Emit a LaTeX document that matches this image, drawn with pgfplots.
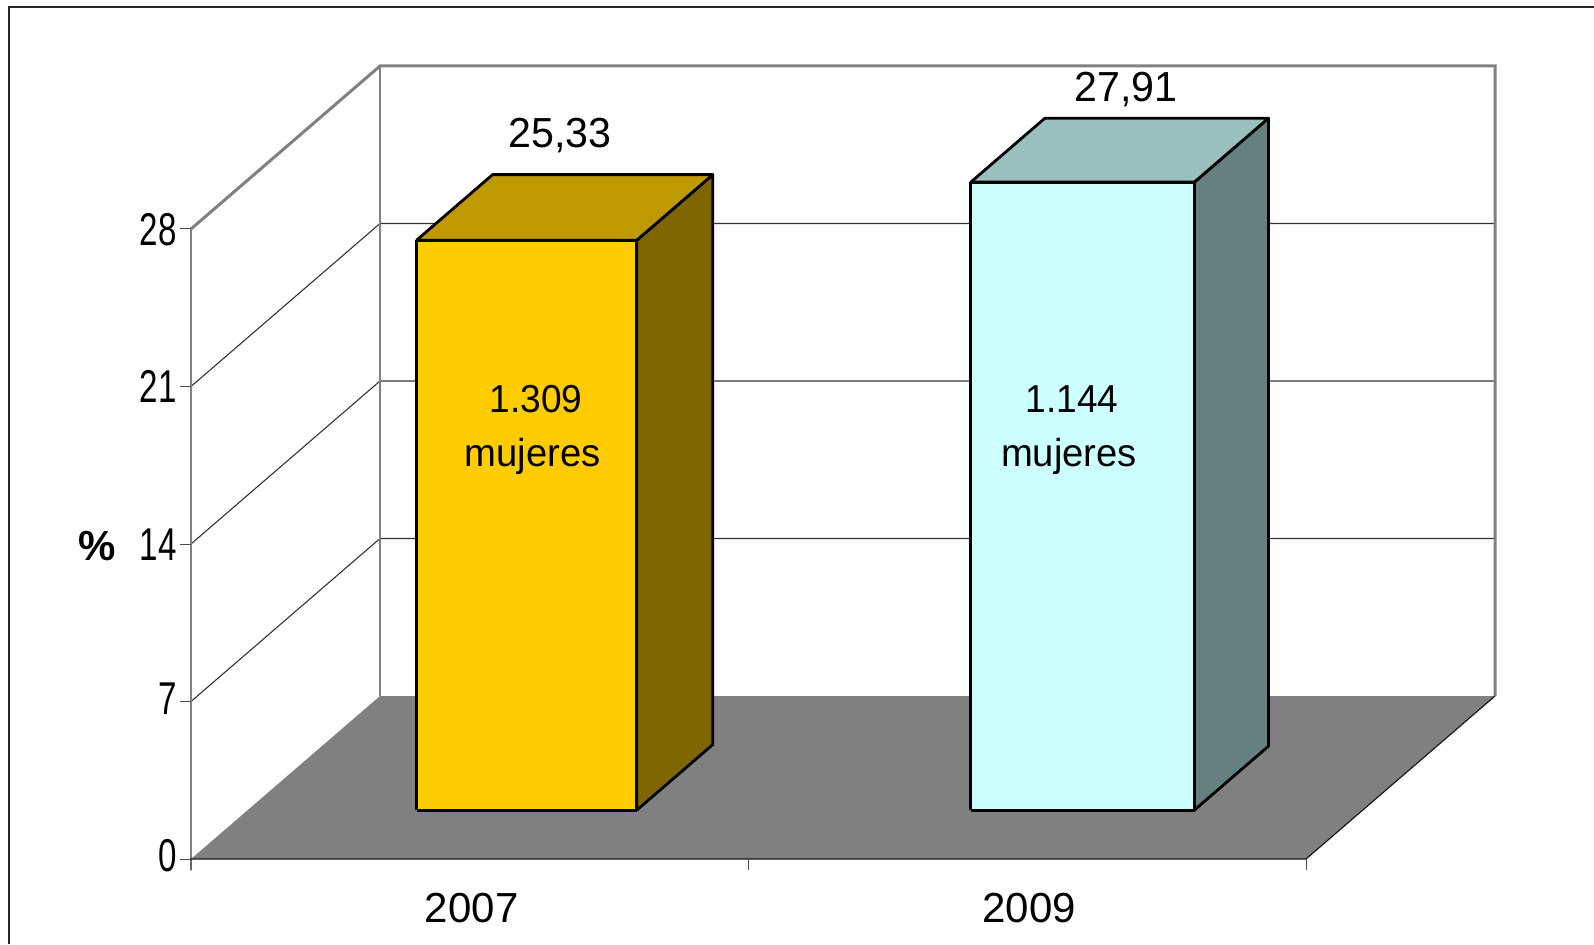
\documentclass[border=0pt]{standalone}
\usepackage{pgfplots}
\pgfplotsset{compat=1.18}
\usepackage{fontspec}
\setmainfont{Liberation Sans}
\newfontfamily\tickfont[FakeStretch=0.72]{Liberation Sans}
\newfontfamily\labfont[FakeStretch=0.98]{Liberation Sans}
\newfontfamily\numfont[FakeStretch=0.95]{Liberation Sans}
\definecolor{wallgrey}{HTML}{808080}
\definecolor{yfront}{HTML}{FFCC00}
\definecolor{ytop}{HTML}{BF9900}
\definecolor{yside}{HTML}{806600}
\definecolor{cfront}{HTML}{CCFFFF}
\definecolor{ctop}{HTML}{99BFBF}
\definecolor{cside}{HTML}{667F7F}
\begin{document}
\begin{tikzpicture}
  % 1 px of the reference = 0.5pt
  \path[use as bounding box] (-95.5pt,-42.5pt) rectangle (701.5pt,429.5pt);
  \draw[line width=1pt, black!85] (-91pt,-42.5pt) -- (-91pt,425.75pt) -- (701.5pt,425.75pt);
  \begin{axis}[
    at={(0pt,0pt)}, anchor=origin,
    x={(278.75pt,0pt)}, y={(94.5pt,81.5pt)}, z={(0pt,11.25pt)},
    xmin=0, xmax=2, ymin=0, ymax=1, zmin=0, zmax=28,
    clip=false,
    axis lines=left,
    axis line style={draw=none},
    tick style={draw=none},
    xtick={0.5,1.5}, xticklabels={2007,2009},
    ytick=\empty,
    ztick={0,7,14,21,28},
    /pgf/number format/assume math mode=true,
    x tick label style={font=\fontsize{21}{21}\selectfont, yshift=-12pt, xshift=7.6pt},
    z tick label style={font=\tickfont\fontsize{23}{23}\selectfont, xshift=-2pt, yshift=6pt},
  ]
    % floor
    \addplot3[fill=wallgrey, draw=none] coordinates {(0,0,0) (2,0,0) (2,1,0) (0,1,0) (0,0,0)};
    % grid on the back wall and side wall
    \addplot3[line width=0.55pt, black!80] coordinates {(0,0,7) (0,1,7) (2,1,7)};
    \addplot3[line width=0.55pt, black!80] coordinates {(0,0,14) (0,1,14) (2,1,14)};
    \addplot3[line width=0.55pt, black!80] coordinates {(0,0,21) (0,1,21) (2,1,21)};
    % wall frame
    \addplot3[line width=1.5pt, wallgrey, line join=miter] coordinates {(0,0,28) (0,1,28) (2,1,28) (2,1,0)};
    \addplot3[line width=1.2pt, wallgrey] coordinates {(0,1,0) (0,1,28)};
    \addplot3[line width=1.2pt, wallgrey] coordinates {(0,0,0) (0,0,28)};
    % floor edges and ticks
    \addplot3[line width=0.6pt, black!90] coordinates {(0,0,-0.5) (0,0,0) (2,0,0) (2,1,0)};
    \addplot3[line width=0.5pt, black!70] coordinates {(1,0,-0.5) (1,0,0)};
    \addplot3[line width=0.5pt, black!70] coordinates {(2,0,-0.5) (2,0,0)};
    \addplot3[line width=0.5pt, black!70] coordinates {(-0.02,0,0) (0,0,0)};
    \addplot3[line width=0.5pt, black!70] coordinates {(-0.02,0,7) (0,0,7)};
    \addplot3[line width=0.5pt, black!70] coordinates {(-0.02,0,14) (0,0,14)};
    \addplot3[line width=0.5pt, black!70] coordinates {(-0.02,0,21) (0,0,21)};
    \addplot3[line width=0.5pt, black!70] coordinates {(-0.02,0,28) (0,0,28)};
    % 2007 bar
    \addplot3[fill=yside, draw=black, line width=1.4pt, line join=round] coordinates {(0.698,0.3,0) (0.698,0.702,0) (0.698,0.702,25.33) (0.698,0.3,25.33) (0.698,0.3,0)};
    \addplot3[fill=ytop, draw=black, line width=1.4pt, line join=round] coordinates {(0.303,0.3,25.33) (0.698,0.3,25.33) (0.698,0.702,25.33) (0.303,0.702,25.33) (0.303,0.3,25.33)};
    \addplot3[fill=yfront, draw=black, line width=1.4pt, line join=round] coordinates {(0.303,0.3,0) (0.698,0.3,0) (0.698,0.3,25.33) (0.303,0.3,25.33) (0.303,0.3,0)};
    % 2009 bar
    \addplot3[fill=cside, draw=black, line width=1.4pt, line join=round] coordinates {(1.698,0.3,0) (1.698,0.692,0) (1.698,0.692,27.91) (1.698,0.3,27.91) (1.698,0.3,0)};
    \addplot3[fill=ctop, draw=black, line width=1.4pt, line join=round] coordinates {(1.297,0.3,27.91) (1.698,0.3,27.91) (1.698,0.692,27.91) (1.297,0.692,27.91) (1.297,0.3,27.91)};
    \addplot3[fill=cfront, draw=black, line width=1.4pt, line join=round] coordinates {(1.297,0.3,0) (1.698,0.3,0) (1.698,0.3,27.91) (1.297,0.3,27.91) (1.297,0.3,0)};
    % labels
    \node[font=\labfont\fontsize{21}{21}\selectfont] at (axis cs:0.662,0,32.17) {25,33};
    \node[font=\labfont\fontsize{21}{21}\selectfont] at (axis cs:1.677,0,34.21) {27,91};
    \node[font=\numfont\fontsize{19.5}{19.5}\selectfont] at (axis cs:0.619,0,20.42) {1.309};
    \node[font=\labfont\fontsize{19.5}{19.5}\selectfont] at (axis cs:0.613,0,17.9) {mujeres};
    \node[font=\numfont\fontsize{19.5}{19.5}\selectfont] at (axis cs:1.580,0,20.42) {1.144};
    \node[font=\labfont\fontsize{19.5}{19.5}\selectfont] at (axis cs:1.575,0,17.9) {mujeres};
    \node[font=\bfseries\fontsize{21}{21}\selectfont] at (axis cs:-0.169,0,13.9) {\%};
  \end{axis}
\end{tikzpicture}
\end{document}
